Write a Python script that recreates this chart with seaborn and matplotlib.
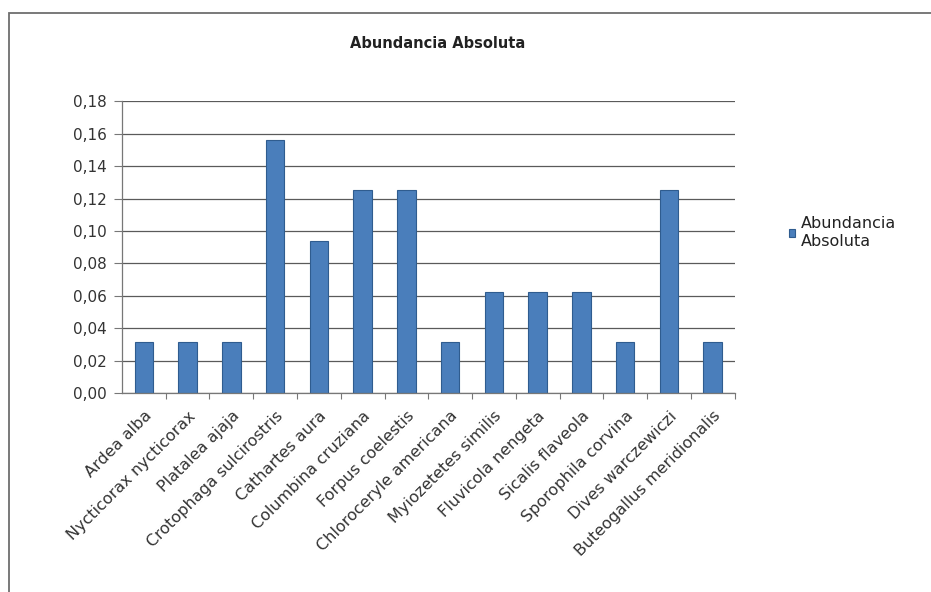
import matplotlib
matplotlib.use("Agg")
import matplotlib.pyplot as plt
from matplotlib.patches import Rectangle
import seaborn as sns
import pandas as pd

especies = [
    "Ardea alba", "Nycticorax nycticorax", "Platalea ajaja",
    "Crotophaga sulcirostris", "Cathartes aura", "Columbina cruziana",
    "Forpus coelestis", "Chloroceryle americana", "Myiozetetes similis",
    "Fluvicola nengeta", "Sicalis flaveola", "Sporophila corvina",
    "Dives warczewiczi", "Buteogallus meridionalis",
]
abundancia = [0.03125, 0.03125, 0.03125, 0.15625, 0.09375, 0.125, 0.125,
              0.03125, 0.0625, 0.0625, 0.0625, 0.03125, 0.125, 0.03125]
y_ticks = [0.00, 0.02, 0.04, 0.06, 0.08, 0.10, 0.12, 0.14, 0.16, 0.18]
serie = "Abundancia Absoluta"

df = pd.DataFrame({"especie": especies, "valor": abundancia})

sns.set_theme(style="white")
plt.rcParams["font.family"] = ["DejaVu Sans"]

fig = plt.figure(figsize=(9.31, 5.92), dpi=100)
fig.patch.set_facecolor("white")
ax = fig.add_axes([0.131, 0.336, 0.658, 0.493])

sns.barplot(data=df, x="especie", y="valor", color="#4A7EBB",
            saturation=1, width=0.42, edgecolor="#2F5C8F", linewidth=0.8,
            ax=ax, label=serie)

ax.set_ylim(0, 0.18)
ax.set_xlim(-0.5, len(especies) - 0.5)
ax.set_yticks(y_ticks)
ax.set_yticklabels([f"{v:.2f}".replace(".", ",") for v in y_ticks],
                   fontsize=11, color="#333333")
ax.yaxis.grid(True, color="#5a5a5a", linewidth=0.9)
ax.set_axisbelow(True)
ax.tick_params(axis="y", which="major", left=True, length=6, width=0.8,
               color="#777777", pad=5)

ax.set_xticks(range(len(especies)))
ax.set_xticklabels(especies, rotation=45, ha="right", rotation_mode="anchor",
                   fontsize=11.5, color="#333333")
ax.tick_params(axis="x", which="major", bottom=False, pad=5)
ax.set_xticks([i + 0.5 for i in range(len(especies))], minor=True)
ax.tick_params(axis="x", which="minor", bottom=True, length=4, width=0.8,
               color="#777777")

for side in ["top", "right"]:
    ax.spines[side].set_visible(False)
ax.spines["left"].set_color("#777777")
ax.spines["bottom"].set_color("#777777")
ax.spines["left"].set_linewidth(0.9)
ax.spines["bottom"].set_linewidth(0.9)
ax.set_xlabel("")
ax.set_ylabel("")

fig.text(0.47, 0.927, serie, ha="center", va="center", fontsize=10.5,
         fontweight="bold", color="#222222")

leg = ax.legend(loc="center left", bbox_to_anchor=(1.065, 0.55), frameon=False,
                fontsize=11.5, handlelength=0.4, handleheight=0.4,
                handletextpad=0.35, labelcolor="#222222", labelspacing=0.2)
leg.texts[0].set_text("Abundancia\nAbsoluta")
leg.texts[0].set_linespacing(1.2)

# chart frame
fig.add_artist(Rectangle((0.010, -0.05), 1.2, 1.028, transform=fig.transFigure,
                         fill=False, edgecolor="#6e6e6e", linewidth=1.3))

fig.savefig("out.png", dpi=100, facecolor="white")
